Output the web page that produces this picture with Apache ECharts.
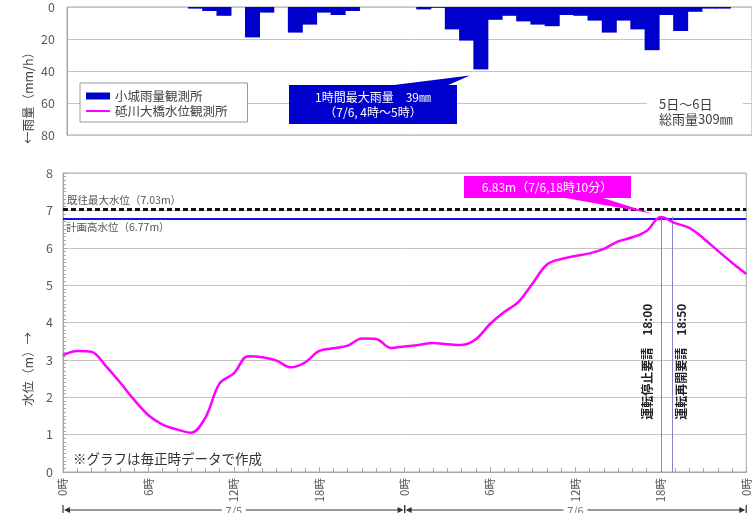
<!DOCTYPE html>
<html><head><meta charset="utf-8">
<script src="https://cdn.jsdelivr.net/npm/echarts@6/dist/echarts.min.js"></script>
<style>html,body{margin:0;padding:0;background:#fff}#c{width:752px;height:513px}</style>
</head><body><div id="c"></div>
<script>
// ---- data ----
const hours = [0,1,2,3,4,5,6,7,8,9,10,11,12,13,14,15,16,17,18,19,20,21,22,23,24,25,26,27,28,29,30,31,32,33,34,35,36,37,38,39,40,41,42,43,44,45,46,47,48];
// hourly rainfall (value at hour h = rain during h-1..h), mm
const rainfall = [0,0,0,0,0,0,0,0,0,1,2.5,5.5,0,19,3.5,0,16,11,3.5,5,2.5,0,0,0,0,1.5,0.5,14,21,39,8,5.5,9,11,12,5,5.5,8.5,16,8.5,14,27,5,15,3,1,1,0,0];
// hourly water level, m
const waterLevel = [3.13,3.24,3.22,2.84,2.40,1.93,1.52,1.27,1.14,1.05,1.45,2.37,2.64,3.10,3.07,2.98,2.80,2.93,3.24,3.31,3.38,3.57,3.56,3.32,3.36,3.40,3.45,3.42,3.40,3.55,3.96,4.28,4.55,5.05,5.55,5.70,5.78,5.85,5.97,6.17,6.28,6.45,6.82,6.66,6.53,6.25,5.92,5.60,5.30];
const xTickLabels = ['0時','6時','12時','18時','0時','6時','12時','18時','0時'];
const dayLabels = ['7/5','7/6'];
const recordLevel = 7.03;
const planLevel = 6.77;
const peakLevel = 6.83;
const stopHour = 42;            // 7/6 18:00
const resumeHour = 42 + 50/60;  // 7/6 18:50

// ---- chart ----
const FONT = "'Noto Sans CJK JP','Noto Sans',sans-serif";
const GRID_LINE = '#c4c4c4';
const AXIS_LINE = '#a6a6a6';
const chart = echarts.init(document.getElementById('c'), null, {renderer:'canvas'});

const option = {
  animation: false,
  textStyle: {fontFamily: FONT},
  grid: [
    {left: 67, top: 7, width: 686, height: 128, show: true, borderColor: AXIS_LINE, borderWidth: 1, backgroundColor: 'transparent'},
    {left: 63, top: 173, width: 686, height: 299, show: true, borderColor: AXIS_LINE, borderWidth: 1, backgroundColor: 'transparent'}
  ],
  xAxis: [
    {gridIndex: 0, type: 'value', min: 0, max: 48, show: false},
    {gridIndex: 1, type: 'value', min: 0, max: 48, interval: 6,
     axisLine: {lineStyle: {color: AXIS_LINE}},
     axisTick: {show: true, inside: true, length: 5, lineStyle: {color: AXIS_LINE}},
     minorTick: {show: true, splitNumber: 6, length: 4, lineStyle: {color: AXIS_LINE}},
     splitLine: {show: false},
     axisLabel: {rotate: 90, margin: 6, color: '#595959', fontSize: 11.5, fontFamily: FONT,
       formatter: v => xTickLabels[Math.round(v / 6)]}}
  ],
  yAxis: [
    {gridIndex: 0, type: 'value', inverse: true, min: 0, max: 80, interval: 20,
     axisLine: {show: true, lineStyle: {color: AXIS_LINE}},
     axisTick: {show: false},
     splitLine: {lineStyle: {color: GRID_LINE}},
     axisLabel: {color: '#595959', fontSize: 12.5, margin: 12, fontFamily: FONT}},
    {gridIndex: 1, type: 'value', min: 0, max: 8, interval: 1,
     axisLine: {show: true, lineStyle: {color: AXIS_LINE}},
     axisTick: {show: true, inside: true, length: 4, lineStyle: {color: AXIS_LINE}},
     minorTick: {show: true, splitNumber: 10, length: 3, lineStyle: {color: AXIS_LINE}},
     splitLine: {lineStyle: {color: GRID_LINE}},
     axisLabel: {color: '#595959', fontSize: 12.5, margin: 10, fontFamily: FONT}}
  ],
  legend: {
    left: 80, top: 83, orient: 'vertical',
    backgroundColor: '#fff', borderColor: '#9a9a9a', borderWidth: 1,
    padding: [6, 20, 4, 6], itemGap: 1, itemWidth: 24, itemHeight: 7,
    textStyle: {fontSize: 12.5, color: '#404040', fontFamily: FONT, lineHeight: 14},
    data: [{name: '小城雨量観測所', icon: 'rect'},
           {name: '砥川大橋水位観測所', icon: 'path://M0,0H24V2H0Z'}]
  },
  series: [
    {name: '小城雨量観測所', type: 'bar', xAxisIndex: 0, yAxisIndex: 0,
     barWidth: 15, itemStyle: {color: '#0000cc', borderWidth: 0},
     data: hours.map((h, i) => [h, rainfall[i]]).filter(d => d[1] > 0)},
    {name: '砥川大橋水位観測所', type: 'line', xAxisIndex: 1, yAxisIndex: 1,
     smooth: 0.35, symbol: 'none', showSymbol: false,
     lineStyle: {color: '#ff00ff', width: 2.5}, itemStyle: {color: '#ff00ff'},
     data: hours.map((h, i) => [h, waterLevel[i]]),
     z: 5,
     markLine: {
       symbol: 'none', silent: true, animation: false,
       data: [
         {yAxis: recordLevel, lineStyle: {type: [5, 3], color: '#111', width: 3},
          label: {show: true, position: 'insideStartTop', distance: 4, formatter: '既往最大水位（7.03m）', color: '#555', fontSize: 10.5, fontFamily: FONT}},
         {yAxis: planLevel, lineStyle: {type: 'solid', color: '#1414e0', width: 2},
          label: {show: true, position: 'insideStartBottom', distance: 3, formatter: '計画高水位（6.77m）', color: '#555', fontSize: 10.5, fontFamily: FONT}},
         [{coord: [stopHour, 0], lineStyle: {type: 'solid', color: '#8585c8', width: 1}, label: {show: false}},
          {coord: [stopHour, peakLevel]}],
         [{coord: [resumeHour, 0], lineStyle: {type: 'solid', color: '#8585c8', width: 1}, label: {show: false}},
          {coord: [resumeHour, peakLevel]}]
       ]
     }}
  ]
};
chart.setOption(option);

// ---- annotations placed through the axes ----
const px = h => chart.convertToPixel({xAxisIndex: 1}, h);
const pyL = v => chart.convertToPixel({yAxisIndex: 1}, v);
const peakX = px(stopHour), peakY = pyL(peakLevel);
const maxIdx = rainfall.indexOf(Math.max(...rainfall));
const barX = chart.convertToPixel({xAxisIndex: 0}, hours[maxIdx]);
const barY = chart.convertToPixel({yAxisIndex: 0}, rainfall[maxIdx]);
const axisY = pyL(0);
const arrowY = 510;
const TXT = '#404040';

const g = [];
// rainfall max callout
g.push({type: 'polygon', shape: {points: [[386, 86], [446, 86], [barX - 11, barY + 6]]}, style: {fill: '#0000cc'}, z: 10});
g.push({type: 'rect', shape: {x: 289, y: 85, width: 168, height: 39}, style: {fill: '#0000cc'}, z: 10});
g.push({type: 'text', x: 373, y: 97, style: {text: '1時間最大雨量　' + rainfall[maxIdx] + '㎜', fill: '#fff', fontSize: 12, fontFamily: FONT, align: 'center', verticalAlign: 'middle'}, z: 11});
g.push({type: 'text', x: 373, y: 112, style: {text: '（7/6, 4時〜5時）', fill: '#fff', fontSize: 12, fontFamily: FONT, align: 'center', verticalAlign: 'middle'}, z: 11});
// total rainfall
g.push({type: 'rect', shape: {x: 647, y: 94, width: 96, height: 34}, style: {fill: '#fff'}, z: 10});
g.push({type: 'text', x: 659, y: 104, style: {text: '5日〜6日', fill: TXT, fontSize: 13, fontFamily: FONT, align: 'left', verticalAlign: 'middle'}, z: 11});
g.push({type: 'text', x: 659, y: 119, style: {text: '総雨量309㎜', fill: TXT, fontSize: 13, fontFamily: FONT, align: 'left', verticalAlign: 'middle'}, z: 11});
// peak callout
g.push({type: 'polygon', shape: {points: [[560, 197], [600, 197], [peakX - 8, peakY - 3]]}, style: {fill: '#ff00ff'}, z: 10});
g.push({type: 'rect', shape: {x: 464, y: 176, width: 167, height: 22}, style: {fill: '#ff00ff'}, z: 10});
g.push({type: 'text', x: 547, y: 187, style: {text: '6.83m（7/6,18時10分）', fill: '#fff', fontSize: 12, fontFamily: FONT, align: 'center', verticalAlign: 'middle'}, z: 11});
// vertical request texts
g.push({type: 'text', x: px(stopHour) - 13, y: pyL(2.95), rotation: Math.PI / 2,
  style: {text: '運転停止要請　18:00', fill: '#222', fontSize: 12, fontWeight: 'bold', fontFamily: FONT, align: 'center', verticalAlign: 'middle'}, z: 11});
g.push({type: 'text', x: px(resumeHour) + 9, y: pyL(2.95), rotation: Math.PI / 2,
  style: {text: '運転再開要請　18:50', fill: '#222', fontSize: 12, fontWeight: 'bold', fontFamily: FONT, align: 'center', verticalAlign: 'middle'}, z: 11});
// note
g.push({type: 'text', x: px(0) + 10, y: axisY - 13, style: {text: '※グラフは毎正時データで作成', fill: '#333', fontSize: 13.5, fontFamily: FONT, align: 'left', verticalAlign: 'middle'}, z: 11});
// axis names
g.push({type: 'text', x: 28, y: 95, rotation: Math.PI / 2, style: {text: '←雨量（mm/h）', fill: TXT, fontSize: 12.5, fontFamily: FONT, align: 'center', verticalAlign: 'middle'}});
g.push({type: 'text', x: 28, y: 369, rotation: Math.PI / 2, style: {text: '水位（m）→', fill: TXT, fontSize: 12.5, fontFamily: FONT, align: 'center', verticalAlign: 'middle'}});
// date arrows
dayLabels.forEach((lab, i) => {
  const x0 = px(i * 24), x1 = px(i * 24 + 24), xm = (x0 + x1) / 2;
  g.push({type: 'line', shape: {x1: x0, y1: arrowY - 5, x2: x0, y2: arrowY + 5}, style: {stroke: '#333', lineWidth: 1.2}});
  g.push({type: 'line', shape: {x1: x1, y1: arrowY - 5, x2: x1, y2: arrowY + 5}, style: {stroke: '#333', lineWidth: 1.2}});
  g.push({type: 'polygon', shape: {points: [[x0 + 1, arrowY], [x0 + 7, arrowY - 3], [x0 + 7, arrowY + 3]]}, style: {fill: '#333'}});
  g.push({type: 'polygon', shape: {points: [[x1 - 1, arrowY], [x1 - 7, arrowY - 3], [x1 - 7, arrowY + 3]]}, style: {fill: '#333'}});
  g.push({type: 'line', shape: {x1: x0 + 6, y1: arrowY, x2: xm - 12, y2: arrowY}, style: {stroke: '#333', lineWidth: 1}});
  g.push({type: 'line', shape: {x1: xm + 12, y1: arrowY, x2: x1 - 6, y2: arrowY}, style: {stroke: '#333', lineWidth: 1}});
  g.push({type: 'text', x: xm, y: arrowY + 1, style: {text: lab, fill: '#777', fontSize: 11, fontFamily: FONT, align: 'center', verticalAlign: 'middle'}});
});
chart.setOption({graphic: {elements: g}});
</script></body></html>
